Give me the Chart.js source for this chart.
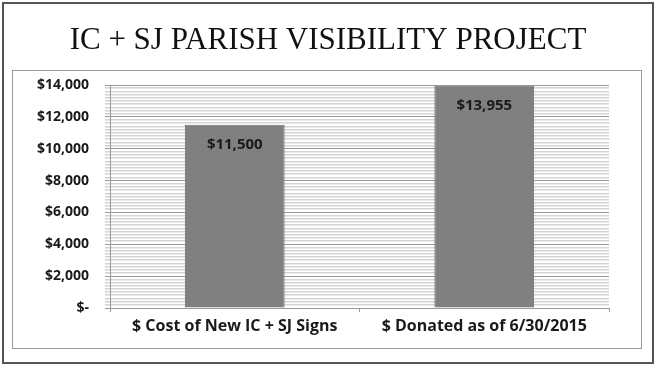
<!DOCTYPE html>
<html>
<head>
<meta charset="utf-8">
<script src="https://cdn.jsdelivr.net/npm/chart.js@4/dist/chart.umd.min.js"></script>
<style>
  html, body { margin: 0; padding: 0; background: #fff; }
  .frame { position: relative; width: 656px; height: 368px; }
  .outer { position: absolute; left: 2px; top: 2px; width: 648px; height: 358px; border: 2px solid #555; }
  .inner { position: absolute; left: 12px; top: 70px; width: 628px; height: 277px; border: 1px solid #999; }
  canvas { position: absolute; left: 0; top: 0; }
</style>
</head>
<body>
<div class="frame">
  <div class="outer"></div>
  <div class="inner"></div>
  <canvas class="js-chart" width="656" height="368"></canvas>
</div>
<script>
const chartTitle = 'IC + SJ PARISH VISIBILITY PROJECT';
const categories = ['$ Cost of New IC + SJ Signs', '$ Donated as of 6/30/2015'];
const amounts = [11500, 13955];
const yMax = 14000;

function money(v) {
  if (v === 0) return '$-';
  return '$' + v.toLocaleString('en-US');
}

// title centred on the whole picture, not on the plot box
const pageTitle = {
  id: 'pageTitle',
  afterDraw(chart) {
    const ctx = chart.ctx;
    ctx.save();
    ctx.font = '31px "Liberation Serif"';
    ctx.fillStyle = '#111';
    ctx.textAlign = 'center';
    ctx.textBaseline = 'alphabetic';
    ctx.fillText(chartTitle, chart.width / 2, 49);
    ctx.restore();
  },
};

// labels inside the top of each bar
const barLabels = {
  id: 'barLabels',
  afterDatasetsDraw(chart) {
    const ctx = chart.ctx;
    const meta = chart.getDatasetMeta(0);
    ctx.save();
    ctx.font = 'bold 15px "Open Sans"';
    ctx.fillStyle = '#1a1a1a';
    ctx.textAlign = 'center';
    ctx.textBaseline = 'middle';
    meta.data.forEach((bar, i) => {
      ctx.fillText(money(amounts[i]), bar.x, bar.y + 20);
    });
    ctx.restore();
  },
};

const ctx = document.getElementsByClassName('js-chart')[0].getContext('2d');

// eslint-disable-next-line no-unused-vars
const myChart = new Chart(ctx, {
  type: 'bar',
  data: {
    labels: categories,
    datasets: [{
      data: amounts,
      backgroundColor: '#808080',
      borderColor: '#6f6f6f',
      borderWidth: 1,
      categoryPercentage: 0.8,
      barPercentage: 0.5,
    }],
  },
  options: {
    responsive: false,
    animation: false,
    layout: { padding: { left: 20, right: 47, top: 85, bottom: 20 } },
    plugins: {
      legend: { display: false },
      tooltip: { enabled: false },
    },
    scales: {
      x: {
        grid: { display: true, drawOnChartArea: false, offset: true, tickLength: 4, color: '#999' },
        border: { color: '#999' },
        ticks: { color: '#1a1a1a', font: { family: 'Open Sans', size: 16, weight: 'bold' }, padding: 5 },
        afterFit(scale) { scale.height = 40; },
      },
      y: {
        min: 0,
        max: yMax,
        border: { color: '#999' },
        grid: {
          color: (c) => (c.tick && c.tick.value % 2000 === 0 ? '#9a9a9a' : '#d4d4d4'),
          lineWidth: (c) => (c.tick && c.tick.value % 2000 === 0 ? 1 : 1.6),
          tickLength: 5,
        },
        ticks: {
          stepSize: 200,
          autoSkip: false,
          color: '#1a1a1a',
          font: { family: 'Open Sans', size: 14, weight: 'bold' },
          padding: 16,
          callback: (v) => (v % 2000 === 0 ? money(v) : ''),
        },
        afterFit(scale) { scale.width = 90; },
      },
    },
  },
  plugins: [barLabels, pageTitle],
});
</script>
</body>
</html>
